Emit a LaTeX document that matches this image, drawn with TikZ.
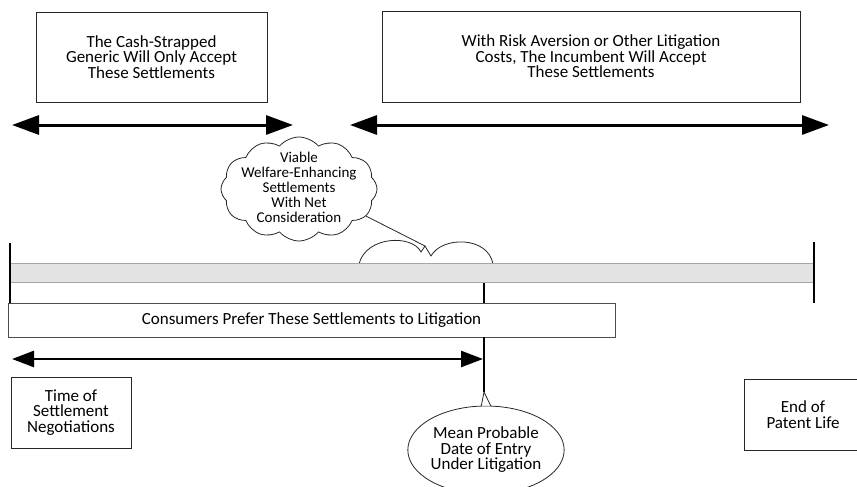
\documentclass[tikz,border=0pt]{standalone}
\usepackage{fontspec}
\setmainfont{Carlito}
\usetikzlibrary{arrows.meta,shapes.symbols,shapes.geometric,positioning}
\colorlet{barColor}{gray!22}
\colorlet{edgeColor}{gray!70}
\colorlet{penColor}{black!85}
\tikzset{
  textfont/.style={font=\fontsize{17}{15.5}\selectfont},
  labelbox/.style={draw=penColor,line width=0.8pt,align=center,inner sep=0pt,textfont},
  span/.style={line width=3pt,
    {Triangle[length=27pt,width=19pt]}-{Triangle[length=27pt,width=19pt]}},
  shortspan/.style={line width=2.6pt,
    {Triangle[length=22pt,width=16pt]}-{Triangle[length=22pt,width=16pt]}},
  tick/.style={line width=2.4pt},
  thinline/.style={line width=0.8pt,penColor}
}
\begin{document}
\begin{tikzpicture}[x=1pt,y=-1pt,line cap=butt]
  \useasboundingbox (0,0) rectangle (857,487);

  % top boxes and their ranges
  \node[labelbox,minimum width=231pt,minimum height=90pt] (generic) at (151.5,57)
    {The Cash-Strapped\\Generic Will Only Accept\\These Settlements};
  \node[labelbox,minimum width=418pt,minimum height=91pt] (incumbent) at (591,56.5)
    {With Risk Aversion or Other Litigation\\Costs, The Incumbent Will Accept\\These Settlements};

  \coordinate (genericL) at (12,125);
  \coordinate (genericR) at (293,125);
  \coordinate (incumbentL) at (350,125);
  \coordinate (incumbentR) at (829,125);
  \draw [span] (genericL) -- (genericR);
  \draw [span] (incumbentL) -- (incumbentR);

  % cloud
  \node[cloud,cloud puffs=12,cloud puff arc=100,cloud ignores aspect,draw=penColor,
    line width=0.8pt,minimum width=156pt,minimum height=104pt,inner sep=0pt]
    (viable) at (299,189) {};
  \node[align=center,inner sep=0pt,font=\fontsize{15}{15}\selectfont] (viableText)
    at ([yshift=2pt]viable.center)
    {Viable\\Welfare-Enhancing\\Settlements\\With Net\\Consideration};
  \coordinate (notch) at (425,246);
  \draw [thinline] (viable.-22) -- (notch);
  \draw [thinline] (359,264) .. controls (366,236) and (412,234) .. (421,252)
    -- (notch) -- (431,256) .. controls (442,236) and (488,236) .. (493,264);

  % time line
  \node[draw=edgeColor,fill=barColor,line width=1.2pt,minimum width=804pt,
    minimum height=19pt,inner sep=0pt] (timeline) at (412,273) {};
  \coordinate (startTop) at (10,243);
  \coordinate (startBot) at (10,303);
  \coordinate (endTop) at (814,242);
  \coordinate (endBot) at (814,303);
  \draw [tick] (startTop) -- (startBot);
  \draw [tick] (endTop) -- (endBot);

  \node[labelbox,draw=black!70,minimum width=607pt,minimum height=34pt] (consumers) at (311.5,320)
    {Consumers Prefer These Settlements to Litigation};

  \coordinate (meanX) at (484,0);
  \coordinate (meanTip) at (484,392);
  \draw [tick] (timeline.south -| meanX) -- (consumers.north -| meanX);
  \draw [tick] (consumers.south -| meanX) -- (meanTip);

  \coordinate (nowL) at (12,359);
  \coordinate (nowR) at (483,359);
  \draw [shortspan] (nowL) -- (nowR);

  % bottom labels
  \node[labelbox,minimum width=120pt,minimum height=71pt] (settle) at (71,412.5)
    {Time of\\Settlement\\Negotiations};
  \node[labelbox,minimum width=118pt,minimum height=71pt] (patent) at (803,414.5)
    {End of\\Patent Life};
  \node[ellipse,draw=penColor,line width=0.8pt,minimum width=150pt,minimum height=88pt,
    inner sep=0pt,align=center,textfont] (mean) at (486,450)
    {Mean Probable\\Date of Entry\\Under Litigation};
  \fill [white] (mean.96) -- (meanTip) -- (mean.84) -- cycle;
  \draw [thinline] (mean.96) -- (meanTip) -- (mean.84);

\end{tikzpicture}
\end{document}
